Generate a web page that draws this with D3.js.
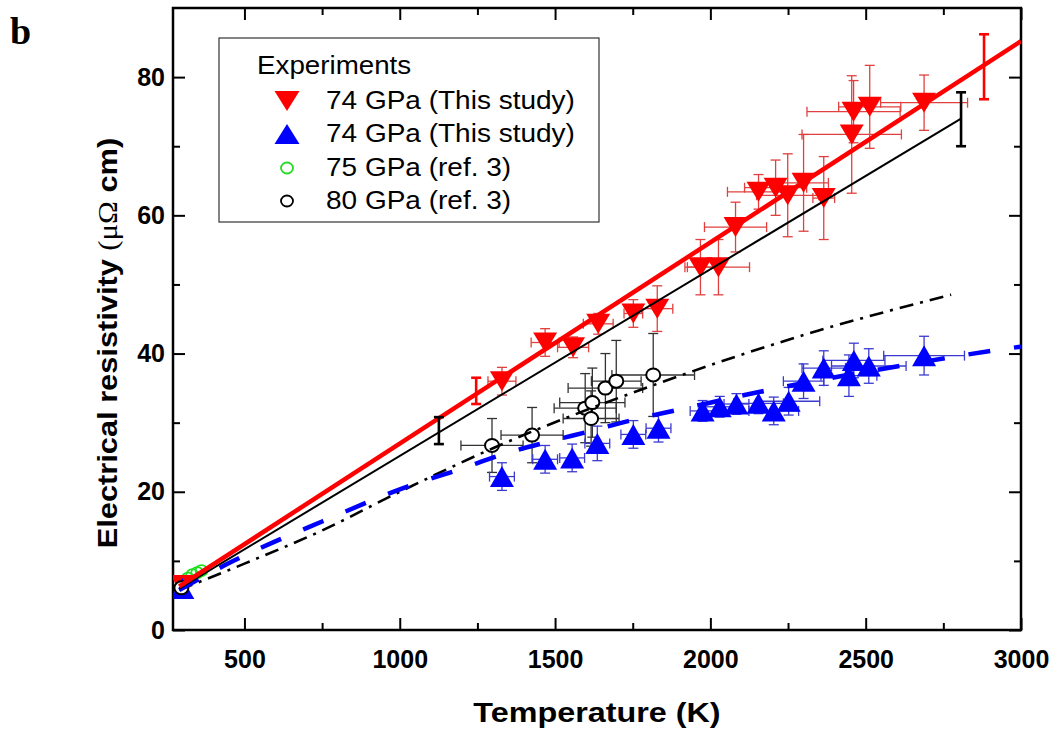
<!DOCTYPE html>
<html>
<head>
<meta charset="utf-8">
<script src="https://cdn.jsdelivr.net/npm/d3@7"></script>
<style>
  body { margin: 0; background: #fff; }
  svg { display: block; font-family: Arial, "Liberation Sans", sans-serif; }
</style>
</head>
<body>
<svg id="chart" width="1058" height="732"></svg>
<script>
// ---- Axis ticks ----
const xMajorTicks = [500, 1000, 1500, 2000, 2500, 3000];
const xMinorTicks = [750, 1250, 1750, 2250, 2750];
const yMajorTicks = [0, 20, 40, 60, 80];
const yMinorTicks = [10, 30, 50, 70];

// ---- 74 GPa, this study (upper branch, red down-triangles) ----
const redTemp    = [300, 1329, 1468, 1558, 1639, 1752, 1829, 1968, 2026, 2081, 2155, 2210, 2249, 2300, 2365, 2455, 2461, 2513, 2688];
const redRho     = [6.5, 36.0, 41.6, 40.9, 44.3, 45.8, 46.5, 52.5, 52.5, 58.3, 63.4, 64.0, 62.9, 64.7, 62.5, 71.7, 75.0, 75.7, 76.3];
const redTempErr = [0, 45, 45, 50, 48, 30, 50, 50, 100, 100, 100, 100, 100, 80, 35, 160, 150, 100, 140];
const redRhoErr  = [1.0, 2.0, 2.0, 1.5, 1.5, 2.0, 3.3, 4.0, 4.0, 3.6, 2.5, 4.0, 6.0, 7.0, 6.0, 8.5, 4.5, 6.0, 4.0];

// ---- 74 GPa, this study (lower branch, blue up-triangles) ----
const blueTemp    = [300, 1329, 1468, 1555, 1636, 1752, 1833, 1975, 2030, 2084, 2155, 2204, 2252, 2300, 2365, 2446, 2462, 2510, 2688];
const blueRho     = [6.0, 22.2, 24.7, 24.9, 27.0, 28.3, 29.2, 31.7, 32.3, 32.7, 32.8, 31.7, 33.1, 36.0, 37.9, 36.8, 39.0, 38.2, 39.7];
const blueTempErr = [0, 40, 40, 40, 40, 40, 40, 40, 50, 40, 80, 80, 100, 65, 70, 90, 100, 120, 130];
const blueRhoErr  = [0.5, 2.0, 2.0, 2.0, 2.5, 2.0, 2.0, 1.5, 1.5, 1.5, 1.5, 2.0, 2.0, 2.5, 2.5, 3.0, 2.5, 2.5, 2.8];

// ---- 75 GPa (ref. 3) ----
const ref75Temp = [318, 332, 348, 362];
const ref75Rho  = [7.5, 8.0, 8.3, 8.6];

// ---- 80 GPa (ref. 3) ----
const ref80Temp    = [297, 1297, 1426, 1597, 1616, 1620, 1662, 1697, 1816];
const ref80Rho     = [6.1, 26.7, 28.2, 32.1, 30.6, 32.9, 35.0, 36.0, 36.9];
const ref80TempErr = [0, 100, 100, 100, 90, 105, 120, 80, 133];
const ref80RhoErr  = [0, 3.9, 4.0, 5.0, 4.0, 5.0, 5.0, 5.9, 6.0];

// ---- Fitted trends ----
const redFitTemp   = [290, 3000];
const redFitRho    = [6.3, 85.2];
const blackFitTemp = [290, 2807];
const blackFitRho  = [6.0, 74.0];
const dashDotTemp  = [290, 500, 750, 1000, 1300, 1840, 2346, 2775];
const dashDotRho   = [5.8, 9.6, 14.4, 20.0, 26.3, 35.8, 43.3, 48.5];
const blueFitTemp  = [290, 460, 750, 1040, 1190, 1330, 1475, 1615, 1760, 1900, 2195, 2620, 2765, 2905, 3000];
const blueFitRho   = [5.8, 9.9, 15.7, 21.0, 23.2, 25.4, 27.2, 28.8, 30.5, 31.9, 34.8, 38.3, 39.4, 40.4, 41.0];

// Uncertainty bars on the fitted trends
const redFitBarTemp   = [1246, 2881];
const redFitBarRho    = [34.6, 81.5];
const redFitBarErr    = [1.9, 4.7];
const blackFitBarTemp = [1126, 2807];
const blackFitBarRho  = [28.85, 73.9];
const blackFitBarErr  = [1.95, 3.9];

// ---- Legend ----
const legendTitle  = "Experiments";
const legendLabels = ["74 GPa (This study)", "74 GPa (This study)", "75 GPa (ref. 3)", "80 GPa (ref. 3)"];

// ---- Colours ----
const RED = "#ff0000", RED_ERR = "#e0403f";
const BLUE = "#0000ff", BLUE_ERR = "#3b3bd0";
const GREEN = "#22dd22";

const svg = d3.select("#chart");
const L = 173, R = 1021, T = 8, B = 630;

const x = d3.scaleLinear().domain([270, 3000]).range([L, R]);
const y = d3.scaleLinear().domain([0, 90]).range([B, T]);

svg.append("defs").append("clipPath").attr("id", "plotclip")
  .append("rect").attr("x", L).attr("y", T).attr("width", R - L).attr("height", B - T);

// ---- Axes (ticks point inward on all four sides) ----
const tickFont = g => g.selectAll("text")
  .attr("font-size", 25).attr("font-weight", "bold").attr("fill", "#000")
  .attr("font-family", "Arial, 'Liberation Sans', sans-serif");
const strip = g => { g.select(".domain").remove(); g.selectAll("line").attr("stroke", "#000").attr("stroke-width", 2); };

svg.append("g").attr("transform", `translate(0,${B})`)
  .call(d3.axisBottom(x).tickValues(xMajorTicks).tickSize(-12).tickPadding(20).tickFormat(d3.format("d")))
  .call(strip).call(tickFont);
svg.append("g").attr("transform", `translate(0,${B})`)
  .call(d3.axisBottom(x).tickValues(xMinorTicks).tickSize(-7).tickFormat(""))
  .call(strip);
svg.append("g").attr("transform", `translate(0,${T})`)
  .call(d3.axisTop(x).tickValues(xMajorTicks).tickSize(-12).tickFormat(""))
  .call(strip);
svg.append("g").attr("transform", `translate(0,${T})`)
  .call(d3.axisTop(x).tickValues(xMinorTicks).tickSize(-7).tickFormat(""))
  .call(strip);

svg.append("g").attr("transform", `translate(${L},0)`)
  .call(d3.axisLeft(y).tickValues(yMajorTicks).tickSize(-12).tickPadding(8).tickFormat(d3.format("d")))
  .call(strip).call(tickFont);
svg.append("g").attr("transform", `translate(${L},0)`)
  .call(d3.axisLeft(y).tickValues(yMinorTicks).tickSize(-7).tickFormat(""))
  .call(strip);
svg.append("g").attr("transform", `translate(${R},0)`)
  .call(d3.axisRight(y).tickValues(yMajorTicks).tickSize(-12).tickFormat(""))
  .call(strip);
svg.append("g").attr("transform", `translate(${R},0)`)
  .call(d3.axisRight(y).tickValues(yMinorTicks).tickSize(-7).tickFormat(""))
  .call(strip);

// Frame
svg.append("rect").attr("x", L).attr("y", T).attr("width", R - L).attr("height", B - T)
  .attr("fill", "none").attr("stroke", "#000").attr("stroke-width", 2.5);

// ---- Axis titles (slightly widened lettering) ----
svg.append("text")
  .attr("transform", "translate(597,722) scale(1.155,1)")
  .attr("text-anchor", "middle").attr("font-size", 28).attr("font-weight", "bold")
  .text("Temperature (K)");

const yTitle = svg.append("text")
  .attr("transform", "translate(117,343) rotate(-90) scale(1.14,1)")
  .attr("text-anchor", "middle").attr("font-size", 27).attr("font-weight", "bold");
yTitle.append("tspan").text("Electrical resistivity ");
yTitle.append("tspan").attr("font-family", "'Liberation Serif', 'Times New Roman', serif")
  .attr("font-weight", "normal").text("(μΩ");
yTitle.append("tspan").text(" cm)");

svg.append("text").attr("x", 10).attr("y", 44)
  .attr("font-family", "'Liberation Serif', 'Times New Roman', serif")
  .attr("font-size", 38).attr("font-weight", "bold").text("b");

// ---- Marker shapes ----
function triPath(w, h, down) {
  const s = down ? -1 : 1;
  return `M${-w / 2},${s * h / 2}L${w / 2},${s * h / 2}L0,${-s * h / 2}Z`;
}

function zip(a, b, c, d) { return a.map((v, i) => ({ t: v, r: b[i], te: c ? c[i] : 0, re: d ? d[i] : 0 })); }

const redPts   = zip(redTemp, redRho, redTempErr, redRhoErr);
const bluePts  = zip(blueTemp, blueRho, blueTempErr, blueRhoErr);
const ref80Pts = zip(ref80Temp, ref80Rho, ref80TempErr, ref80RhoErr);
const ref75Pts = zip(ref75Temp, ref75Rho);

const plot = svg.append("g").attr("clip-path", "url(#plotclip)");

// ---- Error bars with caps ----
function errorBars(g, pts, color, width, cap) {
  const eg = g.append("g").attr("stroke", color).attr("stroke-width", width).attr("fill", "none");
  pts.forEach(p => {
    if (p.re > 0) {
      const y0 = y(p.r - p.re), y1 = y(p.r + p.re), cx = x(p.t);
      eg.append("line").attr("x1", cx).attr("x2", cx).attr("y1", y0).attr("y2", y1);
      eg.append("line").attr("x1", cx - cap).attr("x2", cx + cap).attr("y1", y0).attr("y2", y0);
      eg.append("line").attr("x1", cx - cap).attr("x2", cx + cap).attr("y1", y1).attr("y2", y1);
    }
    if (p.te > 0) {
      const x0 = x(p.t - p.te), x1 = x(p.t + p.te), cy = y(p.r);
      eg.append("line").attr("x1", x0).attr("x2", x1).attr("y1", cy).attr("y2", cy);
      eg.append("line").attr("x1", x0).attr("x2", x0).attr("y1", cy - cap).attr("y2", cy + cap);
      eg.append("line").attr("x1", x1).attr("x2", x1).attr("y1", cy - cap).attr("y2", cy + cap);
    }
  });
}

errorBars(plot, ref80Pts, "#333", 1.3, 5);
errorBars(plot, redPts, RED_ERR, 1.3, 5);
errorBars(plot, bluePts, BLUE_ERR, 1.3, 5);

// ---- Markers ----
plot.append("g").selectAll("ellipse").data(ref75Pts).join("ellipse")
  .attr("cx", d => x(d.t)).attr("cy", d => y(d.r)).attr("rx", 6).attr("ry", 5.5)
  .attr("fill", "none").attr("stroke", GREEN).attr("stroke-width", 1.8);

plot.append("g").selectAll("path").data(redPts).join("path")
  .attr("d", triPath(24, 20, true))
  .attr("transform", d => `translate(${x(d.t)},${y(d.r)})`)
  .attr("fill", RED);

plot.append("g").selectAll("path").data(bluePts).join("path")
  .attr("d", triPath(24, 21, false))
  .attr("transform", d => `translate(${x(d.t)},${y(d.r)})`)
  .attr("fill", BLUE);

plot.append("g").selectAll("ellipse").data(ref80Pts).join("ellipse")
  .attr("cx", d => x(d.t)).attr("cy", d => y(d.r)).attr("rx", 7).attr("ry", 6.5)
  .attr("fill", "#fff").attr("stroke", "#000").attr("stroke-width", 2);

// ---- Fitted trend lines ----
const line = d3.line().x(d => x(d[0])).y(d => y(d[1]));
const smooth = d3.line().x(d => x(d[0])).y(d => y(d[1])).curve(d3.curveMonotoneX);
const pairs = (a, b) => a.map((v, i) => [v, b[i]]);

plot.append("path").datum(pairs(dashDotTemp, dashDotRho)).attr("d", smooth)
  .attr("fill", "none").attr("stroke", "#000").attr("stroke-width", 2.6)
  .attr("stroke-dasharray", "14,7,3,7");

plot.append("path").datum(pairs(blueFitTemp, blueFitRho)).attr("d", smooth)
  .attr("fill", "none").attr("stroke", BLUE).attr("stroke-width", 4.5)
  .attr("stroke-dasharray", "22,24");

plot.append("path").datum(pairs(blackFitTemp, blackFitRho)).attr("d", line)
  .attr("fill", "none").attr("stroke", "#000").attr("stroke-width", 2);

plot.append("path").datum(pairs(redFitTemp, redFitRho)).attr("d", line)
  .attr("fill", "none").attr("stroke", RED).attr("stroke-width", 4.5);

errorBars(plot, zip(redFitBarTemp, redFitBarRho, null, redFitBarErr), RED, 2.6, 5);
errorBars(plot, zip(blackFitBarTemp, blackFitBarRho, null, blackFitBarErr), "#000", 2.6, 5);

// ---- Legend ----
const lg = svg.append("g");
lg.append("rect").attr("x", 219).attr("y", 38).attr("width", 380).attr("height", 184)
  .attr("fill", "#fff").attr("stroke", "#333").attr("stroke-width", 1.2);
lg.append("text").attr("transform", "translate(257,74) scale(1.11,1)").attr("font-size", 25).text(legendTitle);

const rowY = [109, 142, 176, 209];
const symX = 287, txtX = 326;
lg.append("path").attr("d", triPath(25, 20, true)).attr("transform", `translate(${symX},${rowY[0] - 8})`).attr("fill", RED);
lg.append("path").attr("d", triPath(25, 20, false)).attr("transform", `translate(${symX},${rowY[1] - 8})`).attr("fill", BLUE);
lg.append("ellipse").attr("cx", symX).attr("cy", rowY[2] - 8).attr("rx", 6).attr("ry", 5.5)
  .attr("fill", "none").attr("stroke", GREEN).attr("stroke-width", 1.8);
lg.append("ellipse").attr("cx", symX).attr("cy", rowY[3] - 8).attr("rx", 6).attr("ry", 5.5)
  .attr("fill", "none").attr("stroke", "#000").attr("stroke-width", 1.8);
legendLabels.forEach((t, i) => {
  lg.append("text").attr("transform", `translate(${txtX},${rowY[i]}) scale(1.12,1)`)
    .attr("font-size", 25).text(t);
});
</script>
</body>
</html>
